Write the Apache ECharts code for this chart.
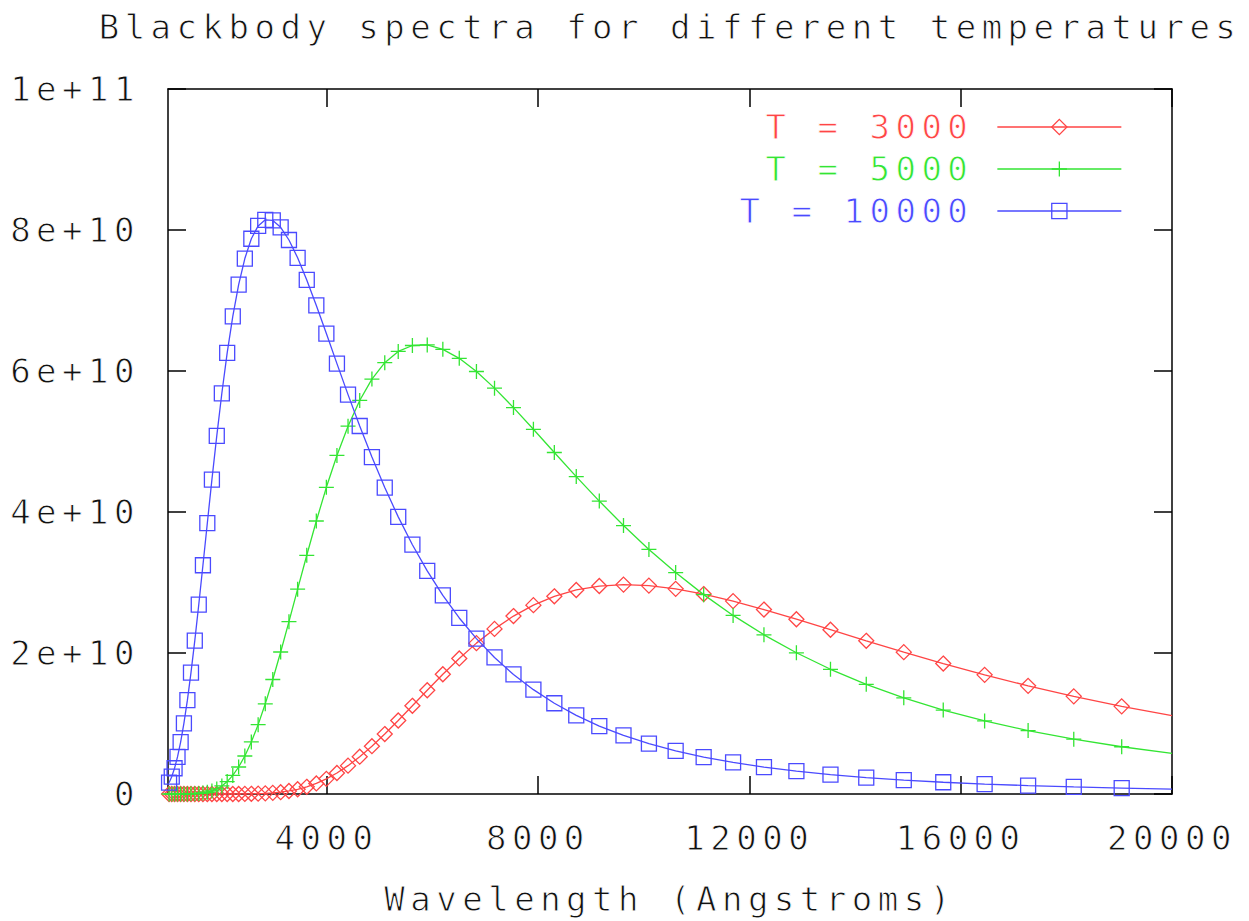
<!DOCTYPE html>
<html>
<head>
<meta charset="utf-8">
<title>Blackbody spectra</title>
<script src="https://cdn.jsdelivr.net/npm/echarts@6/dist/echarts.min.js"></script>
<style>
  html, body { margin: 0; padding: 0; background: #fff; }
  #chart { width: 1249px; height: 921px; }
  /* the gnuplot font is thin and set on a wide pitch */
  #chart text { letter-spacing: 5.5px; stroke: #fff; stroke-width: 0.9px; }
</style>
</head>
<body>
<div id="chart"></div>
<script>
// wavelength samples (Angstroms), same for all three curves
const wavelengths = [
  1020, 1071, 1124, 1180, 1239, 1301, 1367, 1435, 1507, 1582,
  1661, 1744, 1831, 1923, 2019, 2120, 2226, 2337, 2454, 2577,
  2706, 2841, 2983, 3132, 3289, 3453, 3626, 3807, 3997, 4197,
  4407, 4628, 4859, 5102, 5357, 5625, 5906, 6201, 6512, 6837,
  7179, 7538, 7915, 8311, 8726, 9162, 9620, 10101, 10607, 11137,
  11694, 12278, 12892, 13537, 14214, 14924, 15671, 16454, 17277, 18141,
  19048, 20000
];

// intensity in units of 1e10
const t3000 = [
  0, 0, 0, 0, 0, 0, 0, 0, 0, 0,
  0, 0, 0, 0, 0.0001, 0.0001, 0.0003, 0.0006, 0.0013, 0.0026,
  0.005, 0.009, 0.016, 0.026, 0.043, 0.067, 0.102, 0.150, 0.215, 0.298,
  0.402, 0.529, 0.678, 0.850, 1.043, 1.251, 1.472, 1.698, 1.923, 2.140,
  2.342, 2.524, 2.679, 2.804, 2.894, 2.950, 2.970, 2.956, 2.910, 2.836,
  2.736, 2.616, 2.479, 2.330, 2.173, 2.012, 1.850, 1.690, 1.534, 1.385,
  1.243, 1.111
];
const t5000 = [
  0, 0, 0, 0.0001, 0.0002, 0.0004, 0.0009, 0.0019, 0.0039, 0.0075,
  0.014, 0.025, 0.043, 0.072, 0.114, 0.176, 0.264, 0.383, 0.539, 0.738,
  0.984, 1.279, 1.624, 2.014, 2.445, 2.906, 3.386, 3.872, 4.350, 4.802,
  5.217, 5.582, 5.885, 6.118, 6.277, 6.362, 6.370, 6.307, 6.180, 5.993,
  5.757, 5.481, 5.173, 4.844, 4.502, 4.155, 3.808, 3.469, 3.141, 2.828,
  2.533, 2.258, 2.003, 1.769, 1.556, 1.364, 1.191, 1.036, 0.899, 0.777,
  0.670, 0.577
];
const t10000 = [
  0.160, 0.246, 0.365, 0.526, 0.737, 1.003, 1.331, 1.722, 2.175, 2.685,
  3.245, 3.841, 4.459, 5.079, 5.684, 6.256, 6.775, 7.225, 7.595, 7.876,
  8.058, 8.145, 8.136, 8.038, 7.858, 7.606, 7.292, 6.930, 6.531, 6.105,
  5.665, 5.220, 4.779, 4.347, 3.931, 3.536, 3.164, 2.817, 2.497, 2.204,
  1.937, 1.696, 1.480, 1.287, 1.116, 0.964, 0.831, 0.715, 0.613, 0.524,
  0.448, 0.381, 0.324, 0.275, 0.233, 0.197, 0.167, 0.141, 0.119, 0.100,
  0.084, 0.070
];

const seriesNames = ['T = 3000', 'T = 5000', 'T = 10000'];
const xTicks = [4000, 8000, 12000, 16000, 20000];
const yTicks = [0, 2, 4, 6, 8, 10];
const yUnit = 1e10;
const xMin = 1000, xMax = 20000;

const font = "'DejaVu Sans Mono', monospace";
const colors = ['#ff4545', '#33e533', '#4a4aff'];
const symbols = [
  'path://M5,0L10,5L5,10L0,5Z',       // diamond
  'path://M5,0L5,10M0,5L10,5',        // plus
  'path://M0,0L10,0L10,10L0,10Z'      // square
];
const curves = [t3000, t5000, t10000];

const axisLine = { show: true, onZero: false, lineStyle: { color: '#000', width: 1.5 } };
const tickStyle = { color: '#000', width: 1.5 };
const labelStyle = { color: '#111', fontSize: 34, fontFamily: font };

const chart = echarts.init(document.getElementById('chart'), null, { renderer: 'svg' });
chart.setOption({
  animation: false,
  backgroundColor: '#fff',
  title: {
    text: 'Blackbody spectra for different temperatures',
    left: 670,
    top: 10,
    padding: 0,
    textAlign: 'center',
    textStyle: { color: '#111', fontSize: 34, fontWeight: 'normal', fontFamily: font }
  },
  grid: { left: 168, right: 77, top: 89, bottom: 123.5, containLabel: false },
  legend: {
    orient: 'vertical',
    align: 'right',
    right: 127,
    top: 110,
    padding: 0,
    itemWidth: 124,
    itemHeight: 19,
    itemGap: 8,
    selectedMode: false,
    textStyle: { fontSize: 34, fontFamily: font, padding: [0, 19, 0, 0] },
    data: seriesNames.map((n, i) => ({
      name: n,
      textStyle: { color: colors[i] },
      itemStyle: { color: 'transparent', borderColor: colors[i], borderWidth: 1.3 },
      lineStyle: { color: colors[i], width: 1.3 }
    }))
  },
  xAxis: [{
    type: 'value',
    min: xMin,
    max: xMax,
    position: 'bottom',
    axisLine: axisLine,
    axisTick: { show: true, inside: true, length: 18, customValues: xTicks, lineStyle: tickStyle },
    axisLabel: { ...labelStyle, customValues: xTicks, margin: 27, formatter: v => String(v) },
    splitLine: { show: false },
    name: 'Wavelength (Angstroms)',
    nameLocation: 'middle',
    nameGap: 88,
    nameTextStyle: { ...labelStyle }
  }, {
    type: 'value',
    min: xMin,
    max: xMax,
    position: 'top',
    axisLine: axisLine,
    axisTick: { show: true, inside: true, length: 18, customValues: xTicks, lineStyle: tickStyle },
    axisLabel: { show: false },
    splitLine: { show: false }
  }],
  yAxis: [{
    type: 'value',
    min: 0,
    max: 10,
    position: 'left',
    axisLine: axisLine,
    axisTick: { show: true, inside: true, length: 18, customValues: yTicks, lineStyle: tickStyle },
    axisLabel: {
      ...labelStyle,
      customValues: yTicks,
      margin: 28,
      formatter: v => v === 0 ? '0' : (v * yUnit).toExponential()
    },
    splitLine: { show: false }
  }, {
    type: 'value',
    min: 0,
    max: 10,
    position: 'right',
    axisLine: axisLine,
    axisTick: { show: true, inside: true, length: 18, customValues: yTicks, lineStyle: tickStyle },
    axisLabel: { show: false },
    splitLine: { show: false }
  }],
  series: curves.map((vals, i) => ({
    name: seriesNames[i],
    type: 'line',
    data: wavelengths.map((w, j) => w >= xMax ? { value: [w, vals[j]], symbol: 'none' } : [w, vals[j]]),
    symbol: symbols[i],
    symbolSize: 15,
    showSymbol: true,
    showAllSymbol: true,
    lineStyle: { color: colors[i], width: 1.3 },
    itemStyle: { color: 'transparent', borderColor: colors[i], borderWidth: 1.3 },
    emphasis: { disabled: true },
    z: 2 + i
  }))
});
</script>
</body>
</html>
